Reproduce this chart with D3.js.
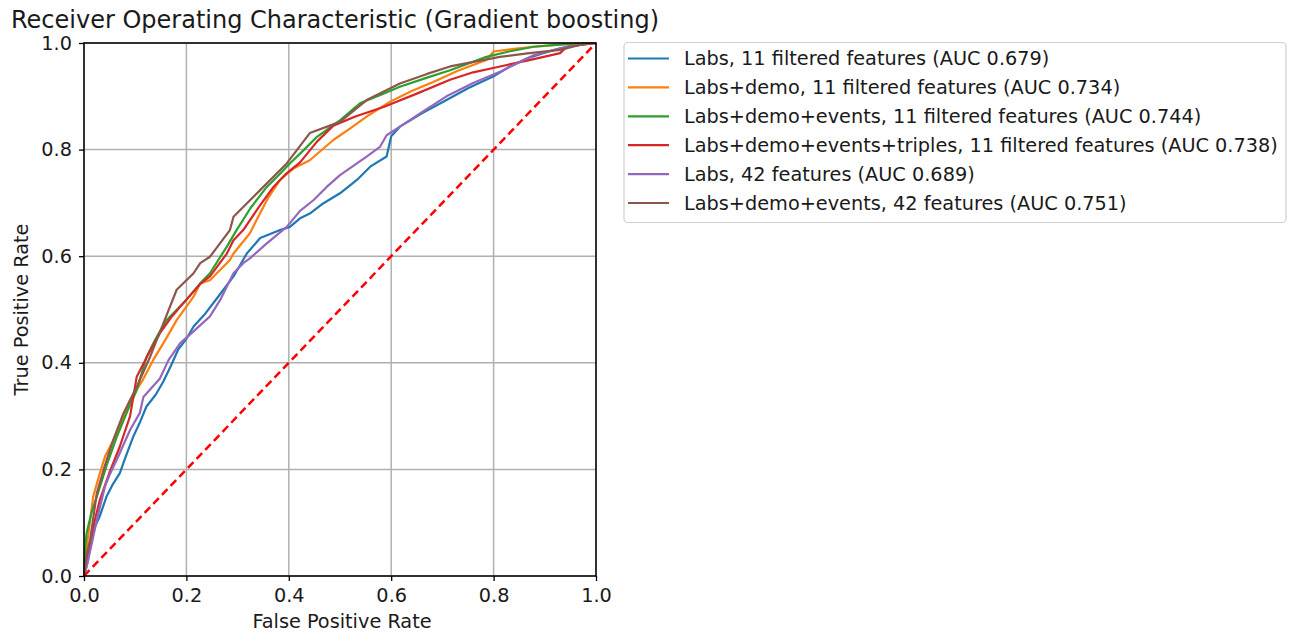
<!DOCTYPE html>
<html>
<head>
<meta charset="utf-8">
<script src="https://cdn.jsdelivr.net/npm/d3@7"></script>
<style>
  body { margin: 0; background: #fff; }
  svg { display: block; font-family: "DejaVu Sans", sans-serif; }
</style>
</head>
<body>
<svg id="chart" width="1293" height="633"></svg>
<script>
// Series names and colours (matplotlib default cycle)
const seriesNames = [
    'Labs, 11 filtered features (AUC 0.679)',
    'Labs+demo, 11 filtered features (AUC 0.734)',
    'Labs+demo+events, 11 filtered features (AUC 0.744)',
    'Labs+demo+events+triples, 11 filtered features (AUC 0.738)',
    'Labs, 42 features (AUC 0.689)',
    'Labs+demo+events, 42 features (AUC 0.751)'
];
const seriesColors = ['#1f77b4', '#ff7f0e', '#2ca02c', '#d62728', '#9467bd', '#8c564b'];

// ROC points: [fpr, tpr]
const rocLabs11 = [
    [0, 0], [0.008, 0.03], [0.012, 0.06], [0.021, 0.092], [0.03, 0.11], [0.044, 0.149],
    [0.055, 0.17], [0.07, 0.193], [0.08, 0.22], [0.096, 0.261], [0.11, 0.29], [0.122, 0.318],
    [0.14, 0.34], [0.155, 0.365], [0.17, 0.395], [0.184, 0.425], [0.2, 0.445], [0.214, 0.468],
    [0.235, 0.49], [0.262, 0.524], [0.292, 0.562], [0.318, 0.605], [0.344, 0.634], [0.383, 0.649],
    [0.402, 0.655], [0.422, 0.671], [0.441, 0.68], [0.467, 0.699], [0.5, 0.718], [0.533, 0.743],
    [0.559, 0.768], [0.591, 0.787], [0.6, 0.825], [0.617, 0.843], [0.66, 0.868], [0.708, 0.893],
    [0.75, 0.915], [0.799, 0.937], [0.83, 0.955], [0.865, 0.971], [0.9, 0.982], [0.93, 0.99],
    [0.975, 0.998], [1, 1]
];
const rocLabsDemo11 = [
    [0, 0], [0.005, 0.05], [0.01, 0.09], [0.018, 0.149], [0.03, 0.19], [0.041, 0.224],
    [0.06, 0.26], [0.075, 0.295], [0.09, 0.33], [0.115, 0.368], [0.135, 0.405], [0.16, 0.445],
    [0.181, 0.48], [0.214, 0.524], [0.227, 0.549], [0.246, 0.555], [0.285, 0.593], [0.292, 0.605],
    [0.324, 0.643], [0.337, 0.668], [0.36, 0.71], [0.383, 0.743], [0.41, 0.765], [0.441, 0.78],
    [0.487, 0.818], [0.52, 0.84], [0.552, 0.862], [0.598, 0.89], [0.64, 0.91], [0.682, 0.927],
    [0.73, 0.948], [0.786, 0.968], [0.8, 0.984], [0.84, 0.989], [0.878, 0.993], [0.943, 0.998],
    [1, 1]
];
const rocLabsDemoEvents11 = [
    [0, 0], [0.002, 0.05], [0.005, 0.08], [0.015, 0.12], [0.025, 0.149], [0.045, 0.21],
    [0.064, 0.261], [0.085, 0.31], [0.103, 0.349], [0.122, 0.411], [0.14, 0.445], [0.161, 0.48],
    [0.2, 0.518], [0.227, 0.549], [0.246, 0.568], [0.279, 0.618], [0.298, 0.649], [0.325, 0.69],
    [0.357, 0.73], [0.38, 0.752], [0.402, 0.774], [0.43, 0.8], [0.455, 0.824], [0.5, 0.855],
    [0.539, 0.887], [0.58, 0.903], [0.617, 0.918], [0.67, 0.935], [0.715, 0.949], [0.786, 0.974],
    [0.83, 0.984], [0.878, 0.993], [0.94, 0.998], [1, 1]
];
const rocLabsDemoEventsTriples11 = [
    [0, 0], [0.006, 0.03], [0.012, 0.055], [0.02, 0.1], [0.031, 0.143], [0.05, 0.195],
    [0.07, 0.243], [0.09, 0.3], [0.103, 0.374], [0.125, 0.415], [0.148, 0.455], [0.17, 0.485],
    [0.194, 0.512], [0.227, 0.548], [0.246, 0.562], [0.279, 0.605], [0.292, 0.63], [0.311, 0.649],
    [0.34, 0.69], [0.37, 0.73], [0.395, 0.755], [0.422, 0.776], [0.455, 0.815], [0.487, 0.845],
    [0.53, 0.862], [0.585, 0.88], [0.65, 0.905], [0.715, 0.931], [0.76, 0.945], [0.8125, 0.956],
    [0.87, 0.968], [0.93, 0.981], [0.943, 0.993], [0.98, 0.998], [1, 1]
];
const rocLabs42 = [
    [0, 0], [0.005, 0.017], [0.015, 0.06], [0.025, 0.105], [0.041, 0.168], [0.05, 0.19],
    [0.064, 0.218], [0.09, 0.274], [0.109, 0.306], [0.116, 0.336], [0.148, 0.37], [0.165, 0.405],
    [0.188, 0.437], [0.215, 0.46], [0.246, 0.487], [0.266, 0.518], [0.292, 0.568], [0.311, 0.587],
    [0.324, 0.596], [0.357, 0.624], [0.396, 0.655], [0.422, 0.685], [0.448, 0.705], [0.474, 0.73],
    [0.5, 0.752], [0.533, 0.774], [0.552, 0.787], [0.578, 0.805], [0.591, 0.827], [0.617, 0.843],
    [0.66, 0.87], [0.708, 0.9], [0.76, 0.925], [0.8125, 0.946], [0.878, 0.977], [0.943, 0.993],
    [0.98, 0.998], [1, 1]
];
const rocLabsDemoEvents42 = [
    [0, 0], [0.005, 0.04], [0.012, 0.068], [0.025, 0.155], [0.04, 0.205], [0.057, 0.255],
    [0.077, 0.305], [0.103, 0.355], [0.129, 0.411], [0.155, 0.474], [0.181, 0.537], [0.214, 0.568],
    [0.227, 0.587], [0.246, 0.599], [0.285, 0.649], [0.292, 0.674], [0.344, 0.724], [0.396, 0.774],
    [0.441, 0.831], [0.5, 0.852], [0.552, 0.893], [0.617, 0.924], [0.67, 0.942], [0.715, 0.956],
    [0.8125, 0.974], [0.87, 0.981], [0.93, 0.987], [0.97, 0.997], [1, 1]
];
const rocSeries = [rocLabs11, rocLabsDemo11, rocLabsDemoEvents11, rocLabsDemoEventsTriples11, rocLabs42, rocLabsDemoEvents42];

const axisTicks = [0, 0.2, 0.4, 0.6, 0.8, 1.0];

const svg = d3.select('#chart');
const plotLeft = 84, plotRight = 596, plotTop = 43, plotBottom = 576;
const fontSize = '19.3px';

const x = d3.scaleLinear().domain([0, 1]).range([plotLeft, plotRight]);
const y = d3.scaleLinear().domain([0, 1]).range([plotBottom, plotTop]);

// Grid
const grid = svg.append('g');
grid.selectAll('line.gx').data(axisTicks).enter().append('line')
    .attr('x1', d => x(d)).attr('x2', d => x(d))
    .attr('y1', plotTop).attr('y2', plotBottom)
    .attr('stroke', '#b0b0b0').attr('stroke-width', 1.5);
grid.selectAll('line.gy').data(axisTicks).enter().append('line')
    .attr('y1', d => y(d)).attr('y2', d => y(d))
    .attr('x1', plotLeft).attr('x2', plotRight)
    .attr('stroke', '#b0b0b0').attr('stroke-width', 1.5);

// Curves
const line = d3.line().x(d => x(d[0])).y(d => y(d[1]));
const plot = svg.append('g');
rocSeries.forEach((pts, i) => {
    plot.append('path')
        .attr('d', line(pts))
        .attr('fill', 'none')
        .attr('stroke', seriesColors[i])
        .attr('stroke-width', 2.2)
        .attr('stroke-linejoin', 'round');
});

// Chance diagonal
plot.append('path')
    .attr('d', line([[0, 0], [1, 1]]))
    .attr('fill', 'none')
    .attr('stroke', '#ff0000')
    .attr('stroke-width', 2.5)
    .attr('stroke-dasharray', '8,4.5');

// Axes
const fmt = d3.format('.1f');
const xAxis = svg.append('g')
    .attr('transform', `translate(0,${plotBottom})`)
    .call(d3.axisBottom(x).tickValues(axisTicks).tickFormat(fmt).tickSize(5).tickPadding(7));
const yAxis = svg.append('g')
    .attr('transform', `translate(${plotLeft},0)`)
    .call(d3.axisLeft(y).tickValues(axisTicks).tickFormat(fmt).tickSize(5).tickPadding(7));
[xAxis, yAxis].forEach(a => {
    a.select('.domain').remove();
    a.selectAll('.tick line').attr('stroke', '#000').attr('stroke-width', 1.3);
    a.selectAll('.tick text')
        .attr('fill', '#1a1a1a')
        .style('font-family', '"DejaVu Sans", sans-serif')
        .style('font-size', fontSize);
});

// Frame
svg.append('rect')
    .attr('x', plotLeft).attr('y', plotTop)
    .attr('width', plotRight - plotLeft).attr('height', plotBottom - plotTop)
    .attr('fill', 'none').attr('stroke', '#000').attr('stroke-width', 1.5);

// Labels
svg.append('text')
    .attr('x', 335).attr('y', 28)
    .attr('text-anchor', 'middle')
    .style('font-size', '24px')
    .attr('fill', '#1a1a1a')
    .text('Receiver Operating Characteristic (Gradient boosting)');
svg.append('text')
    .attr('x', 342).attr('y', 628)
    .attr('text-anchor', 'middle')
    .style('font-size', fontSize)
    .attr('fill', '#1a1a1a')
    .text('False Positive Rate');
svg.append('text')
    .attr('transform', `translate(28,${(plotTop + plotBottom) / 2}) rotate(-90)`)
    .attr('text-anchor', 'middle')
    .style('font-size', fontSize)
    .attr('fill', '#1a1a1a')
    .text('True Positive Rate');

// Legend
const legend = svg.append('g');
legend.append('rect')
    .attr('x', 624).attr('y', 42.5)
    .attr('width', 662).attr('height', 180)
    .attr('rx', 4)
    .attr('fill', '#fff').attr('stroke', '#d0d0d0').attr('stroke-width', 1.2);
const rowY = i => 58.5 + i * 28.9;
seriesNames.forEach((name, i) => {
    legend.append('line')
        .attr('x1', 628).attr('x2', 669)
        .attr('y1', rowY(i)).attr('y2', rowY(i))
        .attr('stroke', seriesColors[i]).attr('stroke-width', 2.2);
    legend.append('text')
        .attr('x', 684).attr('y', rowY(i))
        .attr('dominant-baseline', 'central')
        .style('font-size', fontSize)
        .attr('fill', '#1a1a1a')
        .text(name);
});
</script>
</body>
</html>
